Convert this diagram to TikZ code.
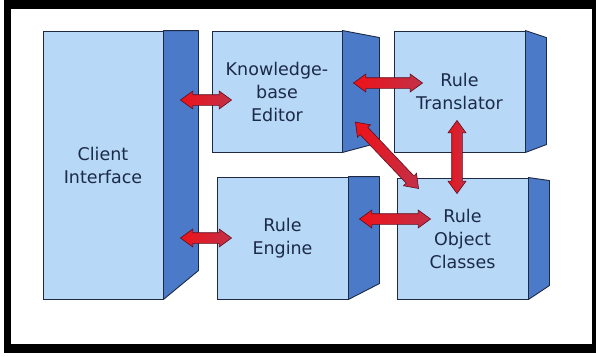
\documentclass[tikz,border=0pt]{standalone}
\usepackage{fontspec}
\setmainfont{DejaVu Sans}
\usetikzlibrary{calc,shapes.arrows}
\definecolor{frontblue}{HTML}{B8D8F8}
\definecolor{sideblue}{HTML}{4A7AC8}
\definecolor{edgeblue}{HTML}{1E2A44}
\definecolor{txtblue}{HTML}{1B2A48}
\definecolor{arrowred}{HTML}{EE1218}
\definecolor{arrowcrim}{HTML}{C23048}
\definecolor{arrowedge}{HTML}{5A1020}
\tikzset{
  frontface/.style={draw=edgeblue, line width=0.9pt, fill=frontblue, inner sep=0pt,
    align=center, text=txtblue, font=\fontsize{17.5}{23}\selectfont},
  sideface/.style={draw=edgeblue, line width=0.9pt, fill=sideblue, line join=round},
  fatarrowstyle/.style={double arrow, draw=arrowedge, line width=0.6pt,
    left color=arrowred, right color=arrowcrim, inner xsep=0pt, inner ysep=5pt,
    text height=0pt, text depth=0pt, text width=0pt, minimum width=0pt,
    double arrow head extend=3.7pt, double arrow tip angle=72}
}
\newcommand\fatarrow[3]{%
  \path let \p1=(#2), \p2=(#3), \n1={atan2(\y2-\y1,\x2-\x1)}, \n2={veclen(\x2-\x1,\y2-\y1)} in
    node[fatarrowstyle, minimum height=\n2, rotate=\n1] (#1) at ($(\p1)!0.5!(\p2)$) {};}
\begin{document}
\begin{tikzpicture}[x=1pt, y=-1pt]
\useasboundingbox (0,0) rectangle (596,356);
% frame
\fill[black] (4,0) rectangle (596,353);
\fill[white] (11,9) rectangle (592,344);
% boxes: front faces
\node[frontface, minimum width=120pt, minimum height=268pt] (ci) at (103,165) {Client\\Interface};
\draw[sideface] (ci.north east) -- ++(35,0) -- ++(0,240) -- (ci.south east) -- cycle;
\node[frontface, minimum width=130pt, minimum height=121pt] (kb) at (277,91.5) {Knowledge-\\base\\Editor};
\draw[sideface] (kb.north east) -- ++(37,7) -- ++(0,105) -- (kb.south east) -- cycle;
\node[frontface, minimum width=131pt, minimum height=121pt] (rt) at (459.5,91.5) {Rule\\Translator};
\draw[sideface] (rt.north east) -- ++(21,7) -- ++(0,107) -- (rt.south east) -- cycle;
\node[frontface, minimum width=131pt, minimum height=122pt] (re) at (282.5,238) {Rule\\Engine};
\draw[sideface] (re.north east) -- ++(31,0) -- ++(0,107) -- (re.south east) -- cycle;
\node[frontface, minimum width=131pt, minimum height=121pt] (roc) at (462.5,238.5) {Rule\\Object\\Classes};
\draw[sideface] (roc.north east) -- ++(21,3) -- ++(0,105) -- (roc.south east) -- cycle;
% arrow end points
\coordinate (a1s) at ($(ci.east |- kb.center)+(17,8.5)$);
\coordinate (a1e) at ($(kb.west)+(20,8.5)$);
\coordinate (a2s) at ($(ci.east |- re.center)+(17,0)$);
\coordinate (a2e) at ($(re.west)+(15,0)$);
\coordinate (a3s) at ($(kb.east)+(11,-8.5)$);
\coordinate (a3e) at ($(rt.west)+(29,-8.5)$);
\coordinate (a4s) at ($(kb.east)+(13,30.5)$);
\coordinate (a4e) at ($(roc.north west)+(22,11)$);
\coordinate (a5s) at ($(rt.south)+(-2.5,-32)$);
\coordinate (a5e) at ($(roc.north)+(-5.5,16)$);
\coordinate (a6s) at ($(re.east)+(11,-19)$);
\coordinate (a6e) at ($(roc.west)+(34,-19.5)$);
% arrows
\fatarrow{ar1}{a1s}{a1e}
\fatarrow{ar2}{a2s}{a2e}
\fatarrow{ar3}{a3s}{a3e}
\fatarrow{ar4}{a4s}{a4e}
\fatarrow{ar5}{a5e}{a5s}
\fatarrow{ar6}{a6s}{a6e}
\end{tikzpicture}
\end{document}
